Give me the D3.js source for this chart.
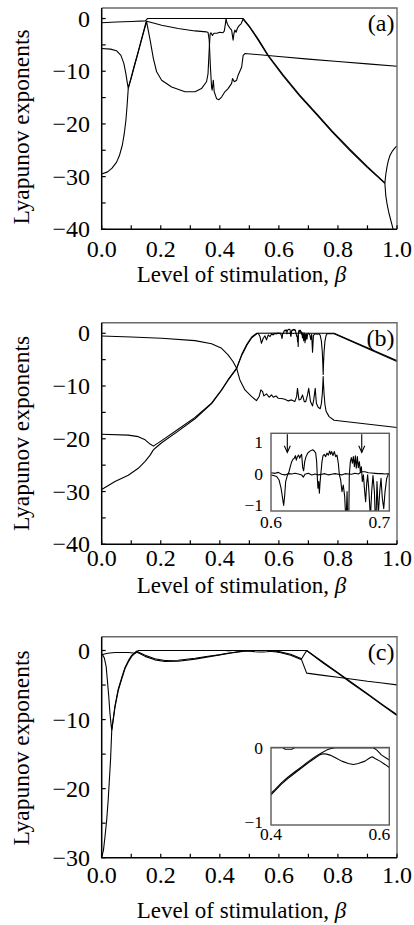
<!DOCTYPE html>
<html>
<head>
<meta charset="utf-8">
<script src="https://cdn.jsdelivr.net/npm/d3@7"></script>
<style>
  html, body { margin: 0; padding: 0; background: #fff; }
  svg { display: block; }
  text { font-family: "Liberation Serif", "Times New Roman", serif; fill: #000; }
</style>
</head>
<body>
<svg id="fig" width="414" height="925"></svg>
<script>
// ---- tick labels and texts ----
const betaTicks = [0, 0.2, 0.4, 0.6, 0.8, 1.0];
const yTicksAB = [0, -10, -20, -30, -40];
const yTicksC = [0, -10, -20, -30];
const insetBTicksX = [0.6, 0.7];
const insetBTicksY = [1, 0, -1];
const insetCTicksX = [0.4, 0.6];
const insetCTicksY = [0, -1];
const panelTags = ["(a)", "(b)", "(c)"];
const xTitle = "Level of stimulation, ";
const xTitleSymbol = "\u03b2";
const yTitle = "Lyapunov exponents";
const insetBArrows = [0.6138, 0.6767];

// ---- panel (a): Lyapunov exponents vs beta ----
const lyapA1 = [[0,-0.8],[0.05,-0.65],[0.1,-0.55],[0.148,-0.45],[0.155,0],[0.479,0],[0.502,-1.6],[0.53,-3.9],[0.564,-6.96],[0.615,-10.75],[0.67,-14.5],[0.727,-18],[0.78,-21.3],[0.84,-24.8],[0.9,-28.1],[0.959,-31.2],[0.962,-29.6],[0.966,-28.2],[0.97,-27.1],[0.976,-26.0],[0.985,-25.1],[0.995,-24.4],[1.0,-24.2]];
const lyapA2 = [[0,-5.7],[0.03,-5.8],[0.05,-6.1],[0.065,-7],[0.075,-8.5],[0.082,-10.5],[0.087,-12.3],[0.09,-13.2],[0.1,-11.1],[0.11,-9.0],[0.12,-7.0],[0.13,-4.9],[0.14,-2.8],[0.15,-0.7],[0.152,-0.5],[0.175,-0.85],[0.203,-1.27],[0.259,-1.9],[0.316,-2.35],[0.355,-2.54],[0.36,-2.6],[0.364,-4],[0.368,-9],[0.372,-13],[0.374,-13.6],[0.378,-11.7],[0.381,-13.9],[0.389,-15.2],[0.397,-15.4],[0.406,-14.9],[0.417,-13.9],[0.428,-13.3],[0.44,-12.3],[0.443,-11.4],[0.449,-12],[0.457,-11.7],[0.462,-10.75],[0.474,-9.2],[0.479,-7.0],[0.485,-6.64],[0.6,-7.2],[0.7,-7.7],[0.8,-8.15],[0.9,-8.6],[1.0,-9.05]];
const lyapA3 = [[0,-29.5],[0.02,-29.1],[0.035,-28.4],[0.05,-27.3],[0.06,-26],[0.07,-24],[0.076,-22],[0.082,-19.3],[0.086,-16.5],[0.09,-13.2],[0.1,-11.3],[0.11,-9.2],[0.12,-7.2],[0.13,-5.1],[0.14,-3.0],[0.152,-0.6],[0.164,-4.1],[0.175,-7.6],[0.186,-10.1],[0.203,-11.7],[0.237,-13],[0.282,-13.9],[0.316,-13.9],[0.338,-13.3],[0.355,-12],[0.36,-10.5],[0.364,-6],[0.367,-3],[0.37,-2.7],[0.375,-3.2],[0.38,-2.8],[0.39,-2.8],[0.4,-2.6],[0.41,-2.7],[0.415,-2.4],[0.419,-1],[0.421,0],[0.424,-0.8],[0.428,-1.3],[0.434,-1.8],[0.44,-2.2],[0.445,-4.1],[0.448,-2.8],[0.451,-2.2],[0.455,-2.6],[0.46,-1.8],[0.466,-1.3],[0.472,-1],[0.479,-0.1],[0.502,-1.75],[0.53,-4.1],[0.564,-7.15],[0.615,-10.95],[0.67,-14.7],[0.727,-18.2],[0.78,-21.5],[0.84,-25],[0.9,-28.3],[0.959,-31.3],[0.962,-33.6],[0.967,-35.4],[0.973,-37],[0.98,-38.5],[0.987,-40],[0.99,-40.6]];

// ---- panel (b) ----
const lyapB1 = [[0,-0.51],[0.1,-0.7],[0.203,-0.95],[0.316,-1.4],[0.372,-2.0],[0.406,-2.85],[0.428,-4.1],[0.445,-5.4],[0.457,-6.64],[0.468,-8.85],[0.485,-10.75],[0.508,-12.0],[0.524,-12.76],[0.533,-12.0],[0.539,-10.74],[0.545,-11.05],[0.549,-11.88],[0.558,-11.5],[0.567,-12.13],[0.575,-11.69],[0.581,-12.13],[0.59,-11.88],[0.598,-12.32],[0.609,-12.38],[0.62,-12.5],[0.632,-12.82],[0.643,-12.63],[0.654,-12.95],[0.66,-12.0],[0.663,-10.42],[0.668,-12.63],[0.674,-12.5],[0.68,-11.69],[0.686,-12.95],[0.691,-12.95],[0.697,-11.69],[0.701,-10.42],[0.707,-12.95],[0.714,-13.77],[0.718,-12.63],[0.723,-10.42],[0.727,-13.27],[0.733,-14.02],[0.74,-14.3],[0.744,-13.3],[0.747,-11.5],[0.749,-9.5],[0.75,-8.2],[0.751,-9.5],[0.753,-11.5],[0.756,-13.5],[0.76,-14.8],[0.77,-15.8],[0.787,-16.5],[1.0,-17.85]];
const lyapB2 = [[0,-19.15],[0.09,-19.3],[0.124,-19.6],[0.147,-20.2],[0.164,-21.0],[0.175,-21.4],[0.18,-21.2],[0.203,-20.35],[0.259,-18.2],[0.316,-15.95],[0.372,-13.25],[0.406,-10.7],[0.428,-8.8],[0.457,-6.6],[0.474,-4.05],[0.491,-2.15],[0.508,-0.72],[0.525,0],[0.6,0.04],[0.6034,0.02],[0.6062,0.05],[0.609,-0.01],[0.6118,-0.03],[0.6147,0.01],[0.6175,0],[0.6203,0.02],[0.6231,0],[0.6259,-0.03],[0.6273,-0.1],[0.6287,-0.01],[0.6316,0.02],[0.6344,-0.03],[0.6372,0],[0.64,-0.03],[0.6428,-0.01],[0.6457,0.01],[0.6485,-0.03],[0.6513,-0.01],[0.6541,0.01],[0.6569,-0.01],[0.6597,-0.03],[0.6626,0.01],[0.6654,0],[0.6682,-0.01],[0.671,0.02],[0.6738,0],[0.6766,0.07],[0.6795,0.07],[0.6823,0.04],[0.6851,0.03],[0.6879,0.02],[0.6907,0.01],[0.6936,0.01],[0.6964,0],[0.7,0.01],[0.787,0],[1.0,-5.2]];
const lyapB3 = [[0,-29.6],[0.045,-28.1],[0.09,-26.9],[0.124,-25.6],[0.147,-24.3],[0.164,-23.1],[0.175,-22.1],[0.181,-21.8],[0.203,-20.75],[0.259,-18.55],[0.316,-16.2],[0.372,-13.35],[0.406,-10.8],[0.428,-8.9],[0.457,-6.7],[0.474,-4.2],[0.491,-2.3],[0.508,-0.85],[0.525,-0.1],[0.53,0],[0.536,-0.63],[0.541,-1.9],[0.547,-0.95],[0.553,-0.5],[0.558,-1.26],[0.564,-0.32],[0.57,-0.63],[0.575,-0.13],[0.581,-0.32],[0.586,-0.05],[0.592,-0.13],[0.596,-0.02],
  [0.6,-0.03],[0.602,-0.05],[0.6048,-0.08],[0.6068,-0.19],[0.6085,-0.45],[0.6096,-0.72],[0.6107,-1.0],[0.6116,-0.67],[0.6124,-0.24],[0.6138,-0.05],[0.6152,0.07],[0.6163,0.23],[0.6175,0.39],[0.6186,0.47],[0.6197,0.5],[0.6206,0.58],[0.6214,0.44],[0.6223,0.55],[0.6234,0.6],[0.6242,0.5],[0.6251,0.58],[0.6259,0.62],[0.6268,0.2],[0.6276,0.1],[0.6285,0.39],[0.6296,0.55],[0.631,0.66],[0.6324,0.71],[0.6338,0.74],[0.6352,0.77],[0.6366,0.73],[0.6378,0.66],[0.6386,0.39],[0.6392,-0.14],[0.6397,-0.45],[0.6403,-0.24],[0.6409,-0.61],[0.6414,-0.3],[0.6423,0.07],[0.6431,0.39],[0.644,0.58],[0.6451,0.62],[0.6462,0.55],[0.6473,0.66],[0.6485,0.6],[0.6496,0.73],[0.6504,0.62],[0.6513,0.71],[0.6524,0.58],[0.6535,0.71],[0.6547,0.55],[0.6558,0.6],[0.6569,0.34],[0.6578,-0.03],[0.6589,-0.19],[0.66,-0.56],[0.6611,-0.35],[0.6623,-0.72],[0.6634,-1.6],[0.6643,-0.56],[0.6654,-2.5],[0.6662,-0.03],[0.6671,0.39],[0.6679,0.52],[0.6688,0.34],[0.6696,0.55],[0.6705,0.23],[0.6713,0.58],[0.6721,0.18],[0.673,0.55],[0.6738,0.2],[0.6747,0.39],[0.6755,0.07],[0.6764,0.23],[0.6772,-0.24],[0.6781,-0.03],[0.6792,-0.56],[0.68,-0.88],[0.6809,-0.3],[0.6817,-0.03],[0.6828,-0.56],[0.684,-1.4],[0.6851,-0.56],[0.6862,-0.05],[0.6874,-0.56],[0.6885,-1.8],[0.6896,-0.24],[0.6907,-1.3],[0.6919,-0.56],[0.693,-0.14],[0.6941,-0.77],[0.6953,-1.1],[0.6964,-0.56],[0.6978,-0.14],[0.6992,-0.01],[0.7,0.01],
  [0.705,-0.3],[0.708,-1.2],[0.711,-0.2],[0.714,-3.6],[0.717,-0.4],[0.722,-0.1],[0.73,-0.2],[0.736,-0.1],[0.74,-0.4],[0.744,-1.5],[0.747,-3.5],[0.749,-6],[0.75,-7.8],[0.751,-6],[0.753,-3.5],[0.756,-1.5],[0.76,-0.4],[0.764,-0.05],[0.787,-0.1],[1.0,-5.35]];

// ---- panel (c) ----
const lyapC1 = [[0,-0.62],[0.02,-0.4],[0.045,-0.29],[0.09,-0.29],[0.115,-0.39],[0.118,-0.14],[0.125,0],[0.42,0],[0.424,-0.02],[0.435,-0.02],[0.44,0],[0.694,0],[0.75,-1.7],[0.8,-3.2],[0.85,-4.75],[0.9,-6.25],[0.95,-7.8],[1.0,-9.3]];
const lyapC2 = [[0,-0.45],[0.002,-0.55],[0.009,-1.1],[0.015,-2.3],[0.019,-4.2],[0.024,-6.7],[0.028,-9.1],[0.032,-10.8],[0.034,-11.5],[0.045,-8.0],[0.056,-5.6],[0.068,-3.9],[0.079,-2.45],[0.09,-1.5],[0.1015,-0.7],[0.118,-0.1],[0.147,-0.7],[0.18,-1.2],[0.214,-1.45],[0.259,-1.4],[0.316,-1.12],[0.36,-0.83],[0.4,-0.61],[0.407,-0.557],[0.418,-0.468],[0.429,-0.392],[0.441,-0.318],[0.452,-0.252],[0.463,-0.185],[0.474,-0.122],[0.483,-0.08],[0.489,-0.054],[0.494,-0.031],[0.5,-0.013],[0.508,0],[0.573,0],[0.579,-0.031],[0.587,-0.098],[0.596,-0.143],[0.6,-0.165],[0.64,-0.55],[0.677,-1.2],[0.694,0],[0.75,-1.8],[0.8,-3.3],[0.85,-4.85],[0.9,-6.35],[0.95,-7.9],[1.0,-9.4]];
const lyapC3 = [[0,-30],[0.006,-28.9],[0.011,-27.0],[0.017,-24.5],[0.022,-21.6],[0.026,-18.7],[0.03,-15.8],[0.034,-11.6],[0.045,-8.2],[0.056,-5.8],[0.068,-4.1],[0.079,-2.6],[0.09,-1.65],[0.1015,-0.85],[0.118,-0.2],[0.147,-0.85],[0.18,-1.35],[0.214,-1.6],[0.259,-1.55],[0.316,-1.25],[0.36,-0.92],[0.4,-0.63],[0.407,-0.575],[0.418,-0.485],[0.429,-0.41],[0.441,-0.335],[0.452,-0.268],[0.463,-0.2],[0.474,-0.14],[0.483,-0.092],[0.4885,-0.08],[0.4941,-0.085],[0.4997,-0.098],[0.5082,-0.13],[0.5195,-0.179],[0.5307,-0.21],[0.5392,-0.223],[0.5476,-0.21],[0.5589,-0.179],[0.5674,-0.134],[0.5713,-0.121],[0.5758,-0.143],[0.5843,-0.179],[0.5927,-0.223],[0.6,-0.264],[0.64,-0.68],[0.677,-1.35],[0.694,-3.28],[0.75,-3.6],[0.8,-3.88],[0.85,-4.15],[0.9,-4.45],[0.95,-4.7],[1.0,-4.97]];

// ---- layout ----
const X0 = 101.7, X1 = 397;
const panels = [
  { top: 8,     bottom: 229.3, yDomain: [-40, 2], yTicks: yTicksAB, tickBase: 257,   titleBase: 282,   yTitleC: 127,   tagBase: 31,    tag: panelTags[0], series: [lyapA1, lyapA2, lyapA3] },
  { top: 322.7, bottom: 544.3, yDomain: [-40, 2], yTicks: yTicksAB, tickBase: 566,   titleBase: 592.5, yTitleC: 433.5, tagBase: 346,   tag: panelTags[1], series: [lyapB1, lyapB2, lyapB3] },
  { top: 636.7, bottom: 857.7, yDomain: [-30, 2], yTicks: yTicksC,  tickBase: 882.5, titleBase: 918,   yTitleC: 748,   tagBase: 659.5, tag: panelTags[2], series: [lyapC1, lyapC2, lyapC3] }
];
const insets = [
  { x0: 271, x1: 389.3, top: 433.3, bottom: 511, xDomain: [0.6, 0.7], yDomain: [-1.175, 1.29], xTicks: insetBTicksX, yTicks: insetBTicksY, tickBase: 528,   series: [lyapB2, lyapB3], arrows: insetBArrows },
  { x0: 271, x1: 389.3, top: 747.5, bottom: 825, xDomain: [0.4, 0.6], yDomain: [-1.036, 0.004], xTicks: insetCTicksX, yTicks: insetCTicksY, tickBase: 839.5, series: [lyapC1, lyapC2, lyapC3], arrows: [] }
];

const svg = d3.select("#fig");
const defs = svg.append("defs");
const fmtMinus = v => (v < 0 ? "\u2212" + Math.abs(v) : String(v));

panels.forEach((p, i) => {
  const x = d3.scaleLinear().domain([0, 1]).range([X0, X1]);
  const y = d3.scaleLinear().domain(p.yDomain).range([p.bottom, p.top]);
  const g = svg.append("g").attr("class", "panel");

  defs.append("clipPath").attr("id", "clip" + i)
    .append("rect").attr("x", X0).attr("y", p.top - 1)
    .attr("width", X1 - X0).attr("height", p.bottom - p.top + 1);

  // exponent curves
  const line = d3.line().x(d => x(d[0])).y(d => y(d[1]));
  g.append("g").attr("clip-path", `url(#clip${i})`)
    .selectAll("path").data(p.series).join("path")
    .attr("d", line).attr("fill", "none").attr("stroke", "#000")
    .attr("stroke-width", 1.1).attr("stroke-linejoin", "round");

  // frame: light top/right, dark left/bottom
  g.append("path").attr("d", `M${X0},${p.top}H${X1}V${p.bottom}`)
    .attr("fill", "none").attr("stroke", "#6a6a6a").attr("stroke-width", 1.4);
  g.append("path").attr("d", `M${X0},${p.top}V${p.bottom}H${X1}`)
    .attr("fill", "none").attr("stroke", "#000").attr("stroke-width", 1.5);

  // inward ticks
  const yMinor = d3.range(p.yDomain[0], 0.001, 5);
  g.selectAll("line.yt").data(yMinor).join("line").attr("class", "yt")
    .attr("x1", X0).attr("x2", X0 + 4).attr("y1", d => y(d)).attr("y2", d => y(d))
    .attr("stroke", "#000").attr("stroke-width", 1.2);
  const xMinor = d3.range(0, 1.0001, 0.1);
  g.selectAll("line.xt").data(xMinor).join("line").attr("class", "xt")
    .attr("x1", d => x(d)).attr("x2", d => x(d)).attr("y1", p.bottom).attr("y2", p.bottom - 4)
    .attr("stroke", "#000").attr("stroke-width", 1.2);

  // tick labels
  g.selectAll("text.yl").data(p.yTicks).join("text").attr("class", "yl")
    .attr("x", 90).attr("y", d => y(d)).attr("dy", "0.34em")
    .attr("text-anchor", "end").attr("font-size", 24).text(fmtMinus);
  g.selectAll("text.xl").data(betaTicks).join("text").attr("class", "xl")
    .attr("x", d => x(d)).attr("y", p.tickBase)
    .attr("text-anchor", "middle").attr("font-size", 24).text(d => d.toFixed(1));

  // axis titles
  const xt = g.append("text").attr("x", 241.5).attr("y", p.titleBase)
    .attr("text-anchor", "middle").attr("font-size", 23).style("white-space", "pre");
  xt.append("tspan").text(xTitle);
  xt.append("tspan").attr("font-style", "italic").text(xTitleSymbol);
  g.append("text").attr("transform", `translate(29,${p.yTitleC}) rotate(-90)`)
    .attr("text-anchor", "middle").attr("font-size", 23.5).text(yTitle);

  // panel tag
  g.append("text").attr("x", 394.5).attr("y", p.tagBase)
    .attr("text-anchor", "end").attr("font-size", 24).text(p.tag);
});

insets.forEach((s, i) => {
  const x = d3.scaleLinear().domain(s.xDomain).range([s.x0, s.x1]);
  const y = d3.scaleLinear().domain(s.yDomain).range([s.bottom, s.top]);
  const g = svg.append("g").attr("class", "inset");

  g.append("rect").attr("x", s.x0).attr("y", s.top)
    .attr("width", s.x1 - s.x0).attr("height", s.bottom - s.top).attr("fill", "#fff");

  defs.append("clipPath").attr("id", "iclip" + i)
    .append("rect").attr("x", s.x0).attr("y", s.top - 1.5)
    .attr("width", s.x1 - s.x0).attr("height", s.bottom - s.top + 1.5);

  const line = d3.line().x(d => x(d[0])).y(d => y(d[1]));
  g.append("g").attr("clip-path", `url(#iclip${i})`)
    .selectAll("path").data(s.series).join("path")
    .attr("d", line).attr("fill", "none").attr("stroke", "#000")
    .attr("stroke-width", 1.1).attr("stroke-linejoin", "round");

  g.append("rect").attr("x", s.x0).attr("y", s.top)
    .attr("width", s.x1 - s.x0).attr("height", s.bottom - s.top)
    .attr("fill", "none").attr("stroke", "#5a5a5a").attr("stroke-width", 1.4);

  g.selectAll("text.iy").data(s.yTicks).join("text").attr("class", "iy")
    .attr("x", s.x0 - 8).attr("y", d => y(d)).attr("dy", "0.34em")
    .attr("text-anchor", "end").attr("font-size", 17.5).text(fmtMinus);
  g.selectAll("text.ix").data(s.xTicks).join("text").attr("class", "ix")
    .attr("x", (d, k) => k === 0 ? x(d) : x(d) + 1).attr("y", s.tickBase)
    .attr("text-anchor", (d, k) => k === 0 ? "middle" : "end")
    .attr("font-size", 17.5).text(d => d.toFixed(1));

  // arrows marking the window edges
  const arrows = g.selectAll("g.arrow").data(s.arrows).join("g").attr("class", "arrow");
  arrows.append("line")
    .attr("x1", d => x(d)).attr("x2", d => x(d))
    .attr("y1", s.top + 1).attr("y2", s.top + 19)
    .attr("stroke", "#000").attr("stroke-width", 1.1);
  arrows.append("path")
    .attr("d", d => `M${x(d) - 3},${s.top + 12.5}L${x(d)},${s.top + 19.2}L${x(d) + 3},${s.top + 12.5}`)
    .attr("fill", "none").attr("stroke", "#000").attr("stroke-width", 1.1);
});
</script>
</body>
</html>
